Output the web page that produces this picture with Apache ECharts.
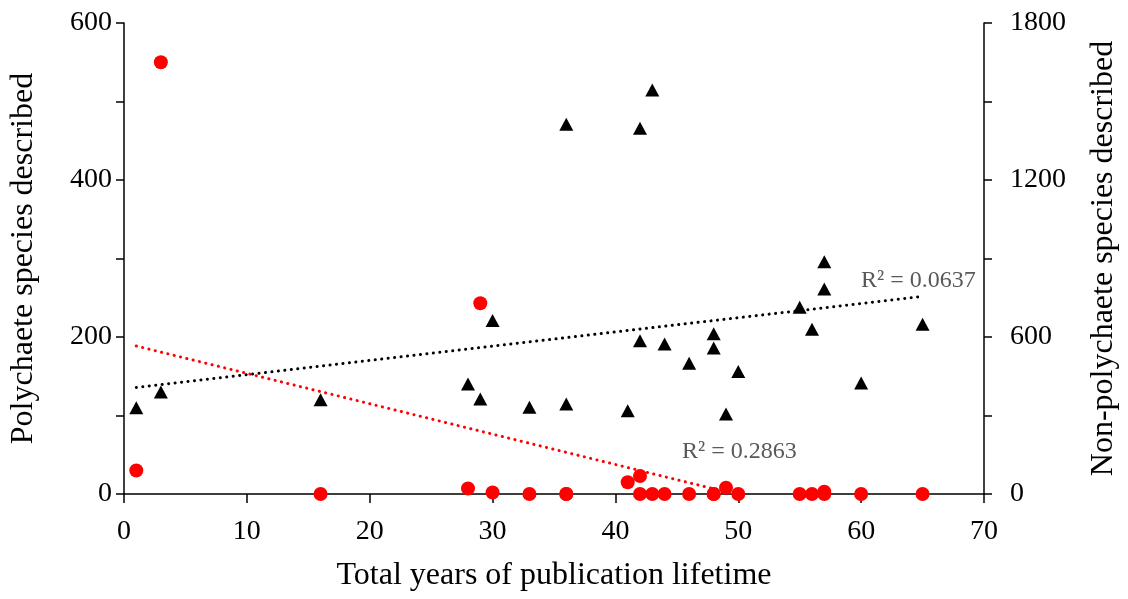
<!DOCTYPE html>
<html>
<head>
<meta charset="utf-8">
<script src="https://cdn.jsdelivr.net/npm/echarts@6/dist/echarts.min.js"></script>
<style>
html,body{margin:0;padding:0;background:#fff;}
#chart{width:1128px;height:599px;}
</style>
</head>
<body>
<div id="chart"></div>
<script>
// Data
var years = [1,3,16,28,29,30,33,36,36,41,42,42,43,44,46,48,48,49,50,55,56,57,57,60,65];
var polychaete = [30,550,0,7,243,2,0,0,0,15,23,0,0,0,0,0,0,8,0,0,0,3,0,0,0];
var nonPolychaete = [330,390,360,420,363,663,332,1413,344,318,1398,586,1544,573,500,612,558,306,468,714,630,888,783,424,649];
var xTicks = [0,10,20,30,40,50,60,70];
var leftTicks = [0,200,400,600];
var rightTicks = [0,600,1200,1800];
var r2Poly = 'R² = 0.2863';
var r2NonPoly = 'R² = 0.0637';

function pairs(xs, ys){ return xs.map(function(x,i){ return [x, ys[i]]; }); }
function linfit(xs, ys){
  var n = xs.length, mx = 0, my = 0;
  for (var i=0;i<n;i++){ mx += xs[i]; my += ys[i]; }
  mx /= n; my /= n;
  var sxy = 0, sxx = 0;
  for (var j=0;j<n;j++){ sxy += (xs[j]-mx)*(ys[j]-my); sxx += (xs[j]-mx)*(xs[j]-mx); }
  var m = sxy/sxx, b = my - m*mx;
  var x0 = Math.min.apply(null, xs), x1 = Math.max.apply(null, xs);
  return [[x0, m*x0+b],[x1, m*x1+b]];
}

var font = 'Liberation Serif, Times New Roman, serif';
var chart = echarts.init(document.getElementById('chart'));
var axisLineStyle = {color:'#000', width:1.5};
chart.setOption({
  backgroundColor:'#fff',
  animation:false,
  grid:{left:124, right:144, top:23, bottom:105},
  xAxis:{
    type:'value', min:xTicks[0], max:xTicks[xTicks.length-1], interval:10,
    name:'Total years of publication lifetime', nameLocation:'middle', nameGap:66,
    nameTextStyle:{fontFamily:font, fontSize:32, color:'#000'},
    axisLine:{show:true, lineStyle:axisLineStyle},
    axisTick:{show:true, length:9, lineStyle:axisLineStyle},
    axisLabel:{fontFamily:font, fontSize:28, color:'#000', margin:24},
    splitLine:{show:false}
  },
  yAxis:[{
    type:'value', min:leftTicks[0], max:leftTicks[leftTicks.length-1], interval:100, position:'left',
    name:'Polychaete species described', nameLocation:'middle', nameGap:84, nameRotate:90,
    nameTextStyle:{fontFamily:font, fontSize:32, color:'#000'},
    axisLine:{show:true, lineStyle:axisLineStyle},
    axisTick:{show:true, length:8, lineStyle:axisLineStyle},
    axisLabel:{fontFamily:font, fontSize:28, color:'#000', margin:12,
      formatter:function(v){ return leftTicks.indexOf(v)>=0 ? String(v) : ''; }},
    splitLine:{show:false}
  },{
    type:'value', min:rightTicks[0], max:rightTicks[rightTicks.length-1], interval:300, position:'right',
    name:'Non-polychaete species described', nameLocation:'middle', nameGap:104, nameRotate:90,
    nameTextStyle:{fontFamily:font, fontSize:32, color:'#000'},
    axisLine:{show:true, lineStyle:axisLineStyle},
    axisTick:{show:true, length:8, lineStyle:axisLineStyle},
    axisLabel:{fontFamily:font, fontSize:28, color:'#000', margin:26,
      formatter:function(v){ return rightTicks.indexOf(v)>=0 ? String(v) : ''; }},
    splitLine:{show:false}
  }],
  series:[
    {
      type:'line', yAxisIndex:1, data:linfit(years, nonPolychaete), symbol:'none', clip:true,
      lineStyle:{color:'#000', width:3, type:[0.1,6.4], cap:'round'}, z:3, silent:true
    },
    {
      type:'line', yAxisIndex:0, data:linfit(years, polychaete), symbol:'none', clip:true,
      lineStyle:{color:'#ff0000', width:3, type:[0.1,6.4], cap:'round'}, z:3, silent:true
    },
    {
      type:'scatter', yAxisIndex:1, data:pairs(years, nonPolychaete), symbol:'triangle', symbolSize:[14,13],
      itemStyle:{color:'#000', opacity:1}, z:4
    },
    {
      type:'scatter', yAxisIndex:0, data:pairs(years, polychaete), symbol:'circle', symbolSize:14,
      itemStyle:{color:'#ff0000', opacity:1}, z:5
    }
  ],
  graphic:[
    {type:'text', left:682, top:440, style:{text:r2Poly, fontFamily:font, fontSize:24, fill:'#595959'}},
    {type:'text', left:861, top:269, style:{text:r2NonPoly, fontFamily:font, fontSize:24, fill:'#595959'}}
  ]
});
</script>
</body>
</html>
